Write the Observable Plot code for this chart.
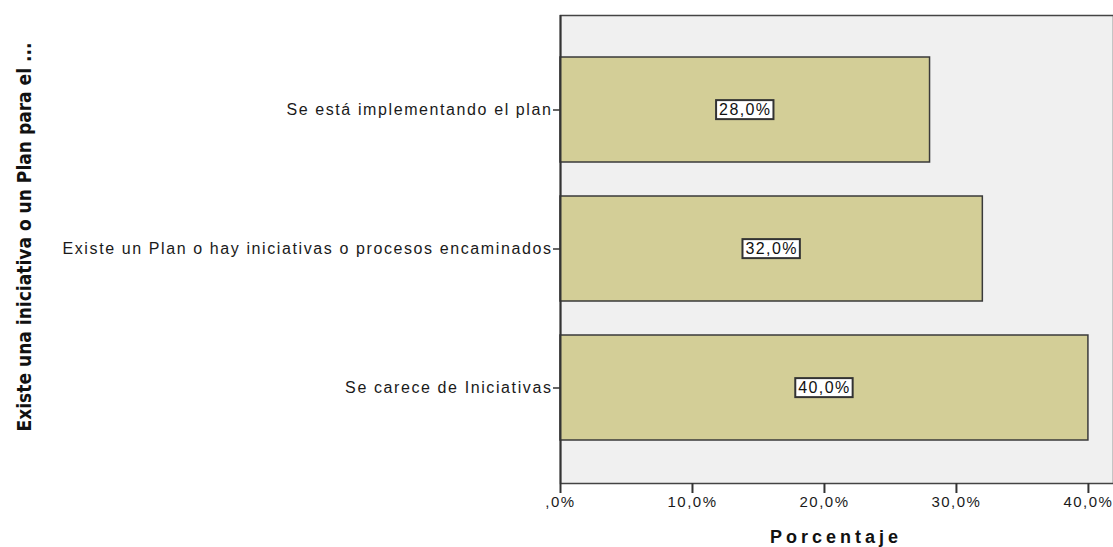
<!DOCTYPE html>
<html>
<head>
<meta charset="utf-8">
<script src="https://cdn.jsdelivr.net/npm/d3@7"></script>
<script src="https://cdn.jsdelivr.net/npm/@observablehq/plot@0.6"></script>
<style>
  html, body { margin: 0; padding: 0; background: #fff; }
  body { width: 1113px; height: 547px; overflow: hidden; }
  svg { display: block; }
  g[aria-label="y-axis tick label"] text { letter-spacing: 1.6px; }
  g[aria-label="x-axis tick label"] text { letter-spacing: 1.5px; }
  .boxlabel text { letter-spacing: 1.4px; }
</style>
</head>
<body>
<div id="chart"></div>
<script>
const categories = [
  "Se está implementando el plan",
  "Existe un Plan o hay iniciativas o procesos encaminados",
  "Se carece de Iniciativas"
];
const percentages = [28.0, 32.0, 40.0];
const xTicks = [0, 10, 20, 30, 40];
const xTickLabels = [",0%", "10,0%", "20,0%", "30,0%", "40,0%"];
const yTitle = "Existe una iniciativa o un Plan para el ...";
const xTitle = "Porcentaje";

const data = categories.map((c, i) => ({category: c, value: percentages[i]}));
const fmt = v => v.toFixed(1).replace(".", ",") + "%";

const chart = Plot.plot({
  width: 1113,
  height: 547,
  marginLeft: 560,
  marginRight: 0,
  marginTop: 15,
  marginBottom: 64,
  style: {fontFamily: "'Liberation Sans', Arial, sans-serif", fontSize: "15px", color: "#1a1a1a", background: "#fff"},
  x: {domain: [0, 41.9], ticks: xTicks, label: null},
  y: {domain: categories, paddingInner: 0.243, paddingOuter: 0.293, label: null},
  marks: [
    Plot.frame({fill: "#f0f0f0", stroke: "#444", strokeWidth: 1.5}),
    Plot.barX(data, {x: "value", y: "category", fill: "#d3ce97", stroke: "#3a3a3a", strokeWidth: 1.5}),
    Plot.text(data, {
      x: d => d.value / 2, y: "category", text: d => fmt(d.value),
      fill: "#111", fontSize: 16, className: "boxlabel"
    }),
    Plot.axisX({ticks: xTicks, tickSize: 10, tickPadding: 3, strokeWidth: 2, stroke: "#333",
      tickFormat: d => xTickLabels[xTicks.indexOf(d)], fontSize: 15, fill: "#1a1a1a", label: null}),
    Plot.axisY({tickSize: 7, tickPadding: 1, strokeWidth: 1.5, stroke: "#333", fontSize: 16, fill: "#1a1a1a", label: null}),
    Plot.ruleX([0], {stroke: "#333", strokeWidth: 2})
  ]
});

document.getElementById("chart").appendChild(chart);

// white boxes behind the value labels
d3.select(chart).selectAll(".boxlabel text").each(function() {
  const b = this.getBBox();
  const t = this.getAttribute("transform");
  const r = d3.select(this.parentNode).insert("rect", () => this)
    .attr("x", b.x - 3).attr("y", b.y - 1)
    .attr("width", b.width + 5).attr("height", b.height + 2)
    .attr("fill", "#fff").attr("stroke", "#333").attr("stroke-width", 2);
  if (t) r.attr("transform", t);
});

// axis titles
const svg = d3.select(chart);
svg.append("text")
  .attr("x", 836).attr("y", 543)
  .attr("text-anchor", "middle")
  .attr("font-family", "'Liberation Sans', Arial, sans-serif")
  .attr("font-weight", "bold").attr("font-size", 18).attr("letter-spacing", 4)
  .attr("fill", "#111")
  .text(xTitle);
svg.append("text")
  .attr("transform", "translate(31,237) rotate(-90)")
  .attr("text-anchor", "middle")
  .attr("font-family", "'Liberation Sans Narrow', 'DejaVu Sans Condensed', sans-serif")
  .attr("font-weight", "bold").attr("font-size", 19)
  .attr("fill", "#111")
  .text(yTitle);
</script>
</body>
</html>
